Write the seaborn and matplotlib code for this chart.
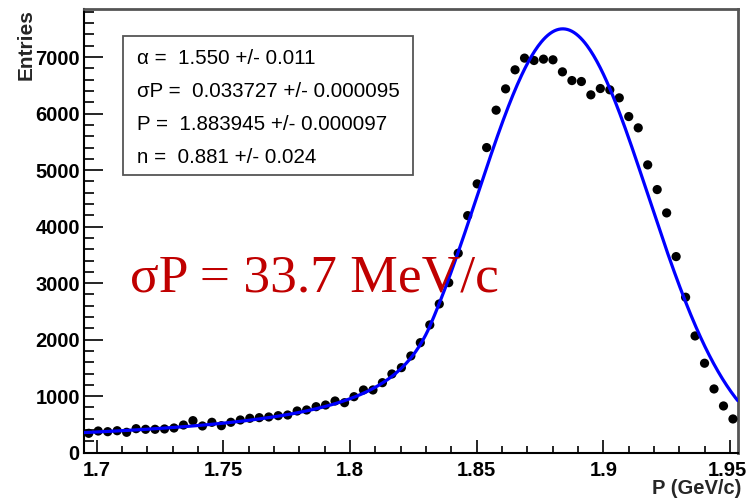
import numpy as np
import pandas as pd
import matplotlib
matplotlib.use("Agg")
import matplotlib.pyplot as plt
import matplotlib.transforms as mtransforms
import seaborn as sns
from matplotlib.ticker import MultipleLocator
from matplotlib.patches import Rectangle

# Momentum histogram: range, number of bins and bin contents
p_lo, p_hi, n_bins = 1.695, 1.953, 69
entries = [343, 384, 372, 389, 361, 425, 414, 414, 420, 437,
           490, 567, 473, 538, 478, 538, 579, 609, 620, 632,
           655, 667, 738, 756, 814, 844, 915, 885, 991, 1110,
           1110, 1239, 1393, 1505, 1712, 1947, 2261, 2632, 3009, 3530,
           4195, 4757, 5399, 6061, 6438, 6775, 6982, 6940, 6964, 6952,
           6739, 6585, 6568, 6332, 6444, 6421, 6279, 5948, 5748, 5093,
           4656, 4243, 3470, 2751, 2066, 1583, 1128, 827, 597]

# Crystal Ball fit parameters
cb_alpha, cb_alpha_err = 1.550, 0.011
cb_sigma, cb_sigma_err = 0.033727, 0.000095
cb_mean, cb_mean_err = 1.883945, 0.000097
cb_n, cb_n_err = 0.881, 0.024
cb_norm = 7500.0

x_ticks = [1.7, 1.75, 1.8, 1.85, 1.9, 1.95]
x_tick_labels = ["1.7", "1.75", "1.8", "1.85", "1.9", "1.95"]
y_ticks = [0, 1000, 2000, 3000, 4000, 5000, 6000, 7000]


def crystal_ball(x, norm, alpha, n, mean, sigma):
    t = (x - mean) / sigma
    a = (n / alpha) ** n * np.exp(-0.5 * alpha ** 2)
    b = n / alpha - alpha
    core = np.exp(-0.5 * t ** 2)
    tail = a * np.abs(b - t) ** (-n)
    return norm * np.where(t > -alpha, core, tail)


edges = np.linspace(p_lo, p_hi, n_bins + 1)
centers = 0.5 * (edges[:-1] + edges[1:])
hist = pd.DataFrame({"p": centers, "entries": entries})

grid = np.linspace(p_lo, p_hi, 600)
fit = pd.DataFrame({"p": grid,
                    "f": crystal_ball(grid, cb_norm, cb_alpha, cb_n, cb_mean, cb_sigma)})

sns.set_theme(style="ticks")
plt.rcParams["font.family"] = ["Liberation Sans", "DejaVu Sans"]

W, H = 748, 500
fig = plt.figure(figsize=(W / 100, H / 100), dpi=100, facecolor="white")
ax = fig.add_axes([84 / W, 1 - 452.7 / H, (737.7 - 84) / W, (452.7 - 8.5) / H])
ax.set_facecolor("white")

sns.scatterplot(data=hist, x="p", y="entries", ax=ax, color="black", s=44,
                edgecolor="none", marker="o", zorder=3, legend=False)
sns.lineplot(data=fit, x="p", y="f", ax=ax, color="#0000ff", linewidth=2.3,
             zorder=4, legend=False)

ax.set_xlim(p_lo, p_hi)
ax.set_ylim(0, 7860)
ax.set_xticks(x_ticks)
ax.set_xticklabels(x_tick_labels)
ax.set_yticks(y_ticks)
ax.xaxis.set_minor_locator(MultipleLocator(0.01))
ax.yaxis.set_minor_locator(MultipleLocator(200))
ax.set_xlabel("")
ax.set_ylabel("")

ax.tick_params(axis="x", which="major", direction="in", length=9.5, width=1.2,
               color="black", pad=6)
ax.tick_params(axis="x", which="minor", direction="in", length=4.7, width=1.2,
               color="black")
ax.tick_params(axis="y", which="major", direction="in", length=13.5, width=1.2,
               color="black", pad=3)
ax.tick_params(axis="y", which="minor", direction="in", length=7, width=1.2,
               color="black")
for lab in ax.get_xticklabels() + ax.get_yticklabels():
    lab.set_fontsize(14.5)
    lab.set_fontweight("bold")
    lab.set_color("black")

# keep the last momentum label inside the canvas
last = ax.get_xticklabels()[-1]
last.set_transform(last.get_transform() +
                   mtransforms.ScaledTranslation(-3 / 100, 0, fig.dpi_scale_trans))

for side in ("left", "bottom"):
    ax.spines[side].set_color("black")
    ax.spines[side].set_linewidth(1.5)
for side in ("top", "right"):
    ax.spines[side].set_visible(True)
    ax.spines[side].set_color("#555555")
    ax.spines[side].set_linewidth(2)

fig.text(26 / W, 1 - 9 / H, "Entries", rotation=90, ha="center", va="top",
         fontsize=15, fontweight="bold")
fig.text(741 / W, 1 - 489 / H, "P (GeV/c)", ha="right", va="center",
         fontsize=14.5, fontweight="bold")

# Fit statistics box
box_l, box_t, box_r, box_b = 123, 36, 413, 175
fig.add_artist(Rectangle((box_l / W, 1 - box_b / H), (box_r - box_l) / W,
                         (box_b - box_t) / H, transform=fig.transFigure,
                         facecolor="white", edgecolor="#555555", linewidth=1.3,
                         zorder=5))
stat_lines = [
    f"\u03b1 =  {cb_alpha:.3f} +/- {cb_alpha_err:.3f}",
    f"\u03c3P =  {cb_sigma:.6f} +/- {cb_sigma_err:.6f}",
    f"P =  {cb_mean:.6f} +/- {cb_mean_err:.6f}",
    f"n =  {cb_n:.3f} +/- {cb_n_err:.3f}",
]
for i, line in enumerate(stat_lines):
    fig.text(137 / W, 1 - (59 + 32.7 * i) / H, line, ha="left", va="center",
             fontsize=14.8, color="black", zorder=6)

fig.text(130 / W, 1 - 292 / H, f"\u03c3P = {cb_sigma * 1000:.1f} MeV/c",
         ha="left", va="baseline", fontsize=38.5, color="#c00000",
         family=["Liberation Serif", "DejaVu Serif"], zorder=6)

fig.savefig("out.png", dpi=100, facecolor="white")
